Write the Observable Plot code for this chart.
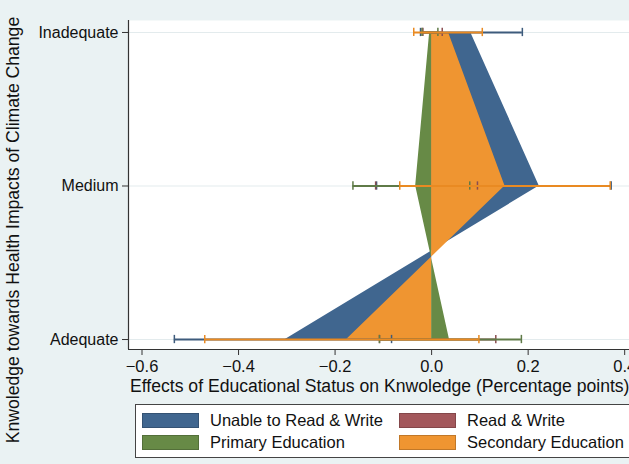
<!DOCTYPE html>
<html>
<head>
<meta charset="utf-8">
<script src="https://cdn.jsdelivr.net/npm/d3@7"></script>
<script src="https://cdn.jsdelivr.net/npm/@observablehq/plot@0.6"></script>
<style>
  html, body { margin: 0; padding: 0; background: #eaf2f3; overflow: hidden; }
  #wrap { position: relative; width: 629px; height: 464px; font-family: "Liberation Sans", Arial, sans-serif; }
  #wrap svg { position: absolute; left: 0; top: 0; }
  .ytitle { position: absolute; left: 13px; top: 230px; transform: translate(-50%, -50%) rotate(-90deg); white-space: nowrap; font-size: 17.6px; color: #111; }
  .xtitle { position: absolute; left: 130px; top: 377px; white-space: nowrap; font-size: 17.6px; line-height: 19px; color: #111; }
  .legend { position: absolute; left: 135px; top: 404px; width: 520px; height: 54px; background: #fff; border: 1px solid #444; box-sizing: border-box; }
  .item { position: absolute; display: flex; align-items: center; font-size: 16.5px; color: #111; white-space: nowrap; }
  .sw { width: 57px; height: 15px; margin-right: 11px; box-sizing: border-box; }
</style>
</head>
<body>
<div id="wrap"></div>
<script>
// ---- data ----
const levels = ["Adequate", "Medium", "Inadequate"];        // y positions 0,1,2
const levelPos = [0, 1, 2];
const groups = ["Unable to Read & Write", "Read & Write", "Primary Education", "Secondary Education"];
const colors = ["#40668f", "#a3585c", "#678a46", "#ef9531"];
const ciColors = ["#3d5b7c", "#8a4d50", "#5f7a47", "#e98a22"];

const unableVals    = [-0.303, 0.223, 0.081];
const readWriteVals = [0, 0, 0];
const primaryVals   = [0.037, -0.033, -0.004];
const secondaryVals = [-0.176, 0.152, 0.035];

const unableLo    = [-0.533, -0.114, -0.023];
const unableHi    = [-0.083, 0.372, 0.188];
const readWriteLo = [-0.108, -0.116, -0.018];
const readWriteHi = [0.133, 0.095, 0.022];
const primaryLo   = [-0.108, -0.163, -0.020];
const primaryHi   = [0.186, 0.079, 0.013];
const secondaryLo = [-0.470, -0.066, -0.037];
const secondaryHi = [0.098, 0.370, 0.105];

const xTicks = [-0.6, -0.4, -0.2, 0, 0.2, 0.4];

// ---- build tables ----
const vals = [unableVals, readWriteVals, primaryVals, secondaryVals];
const los = [unableLo, readWriteLo, primaryLo, secondaryLo];
const his = [unableHi, readWriteHi, primaryHi, secondaryHi];

const rows = [];
groups.forEach((g, gi) => {
  levelPos.forEach((p, li) => {
    rows.push({group: g, gi, pos: p, value: vals[gi][li], lo: los[gi][li], hi: his[gi][li]});
  });
});
const caps = rows.flatMap(r => [{...r, x: r.lo}, {...r, x: r.hi}]);
const capH = 0.027;

const marks = [
  Plot.frame({fill: "white", stroke: null}),
  Plot.gridY(levelPos, {stroke: "#e3ebed", strokeOpacity: 1})
];
groups.forEach((g, gi) => {
  marks.push(Plot.areaX(rows.filter(r => r.gi === gi), {
    y: "pos", x1: 0, x2: "value", fill: colors[gi], fillOpacity: 1, curve: "linear"
  }));
});
groups.forEach((g, gi) => {
  marks.push(Plot.ruleY(rows.filter(r => r.gi === gi), {
    y: "pos", x1: "lo", x2: "hi", stroke: ciColors[gi], strokeWidth: 2
  }));
  marks.push(Plot.ruleX(caps.filter(r => r.gi === gi), {
    x: "x", y1: d => d.pos - capH, y2: d => d.pos + capH, stroke: ciColors[gi], strokeWidth: 1.5
  }));
});
marks.push(Plot.axisY(levelPos, {
  tickFormat: (d, i) => levels[levelPos.indexOf(d)], tickSize: 6, tickPadding: 4,
  fontSize: 16, label: null, stroke: "#333", fill: "#111"
}));
marks.push(Plot.axisX(xTicks, {
  tickFormat: d3.format(".1f"), tickSize: 6, tickPadding: 5, fontSize: 16.5,
  label: null, stroke: "#333", fill: "#111"
}));
marks.push(Plot.ruleX([-0.628], {stroke: "#333", strokeWidth: 1.2}));
marks.push(Plot.ruleY([-0.065], {stroke: "#333", strokeWidth: 1.2}));

const chart = Plot.plot({
  width: 629, height: 464,
  marginLeft: 128, marginRight: 0, marginTop: 20, marginBottom: 115,
  style: {background: "transparent", fontFamily: "Liberation Sans, Arial, sans-serif", overflow: "hidden"},
  x: {domain: [-0.628, 0.41], tickFormat: d3.format(".1f")},
  y: {domain: [-0.065, 2.078]},
  marks
});

const wrap = document.getElementById("wrap");
wrap.appendChild(chart);

const yt = document.createElement("div");
yt.className = "ytitle";
yt.textContent = "Knwoledge towards Health Impacts of Climate Change";
wrap.appendChild(yt);

const xt = document.createElement("div");
xt.className = "xtitle";
xt.textContent = "Effects of Educational Status on Knwoledge (Percentage points)";
wrap.appendChild(xt);

const lg = document.createElement("div");
lg.className = "legend";
const itemPos = [[6, 6], [263, 6], [6, 28], [263, 28]];
groups.forEach((g, gi) => {
  const it = document.createElement("div");
  it.className = "item";
  it.style.left = itemPos[gi][0] + "px";
  it.style.top = itemPos[gi][1] + "px";
  const sw = document.createElement("div");
  sw.className = "sw";
  sw.style.background = colors[gi];
  sw.style.border = "1px solid " + d3.color(colors[gi]).darker(0.6);
  const tx = document.createElement("span");
  tx.textContent = g;
  it.appendChild(sw);
  it.appendChild(tx);
  lg.appendChild(it);
});
wrap.appendChild(lg);
</script>
</body>
</html>
